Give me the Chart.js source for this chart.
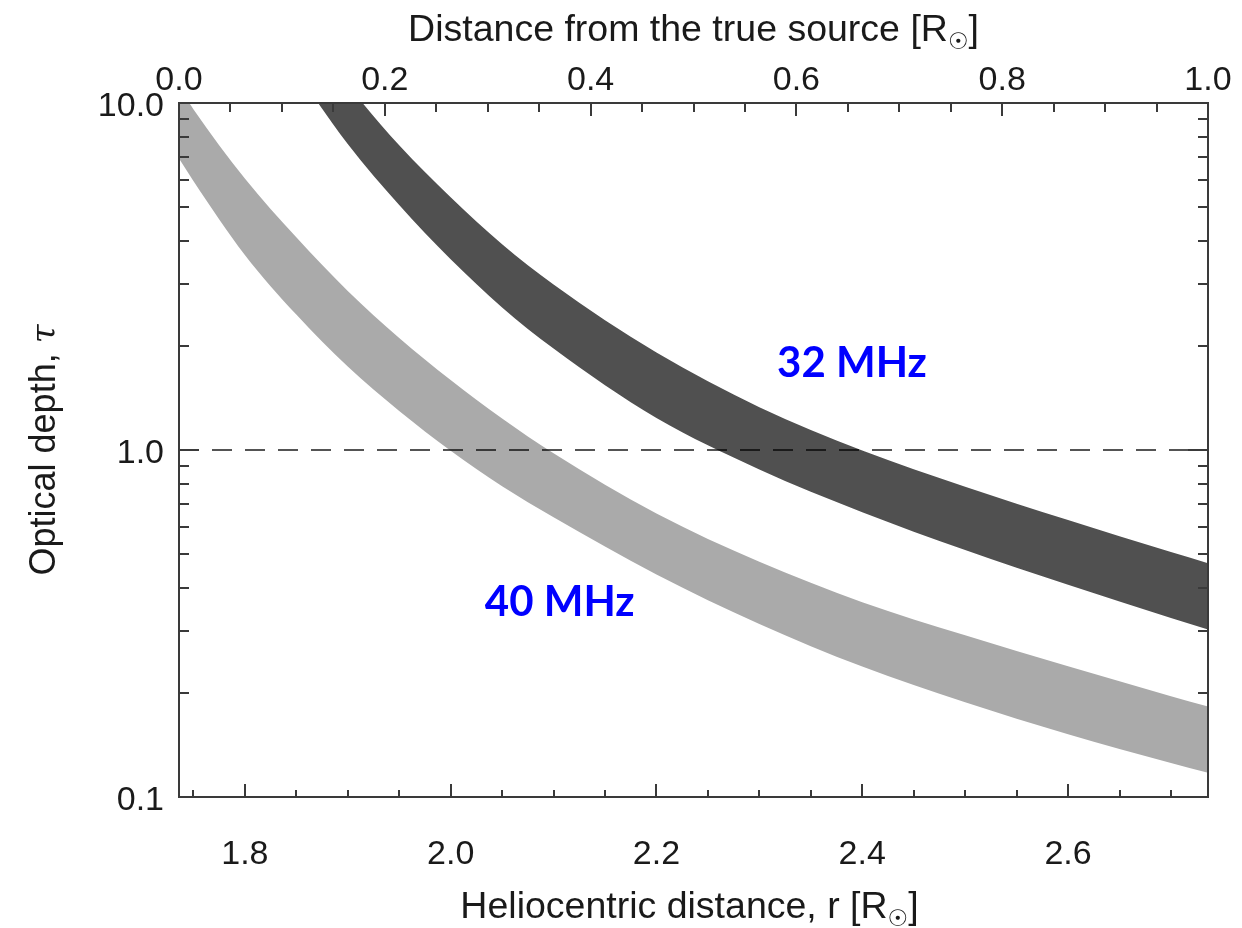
<!DOCTYPE html>
<html>
<head>
<meta charset="utf-8">
<title>Optical depth</title>
<script src="https://cdn.jsdelivr.net/npm/chart.js@4.4.1/dist/chart.umd.min.js"></script>
<style>
  html, body { margin: 0; padding: 0; background: #fff; }
  #myChart { display: block; }
</style>
</head>
<body>
<canvas id="myChart" width="1242" height="928"></canvas>
<script>
// heliocentric distance grid for each band [R_sun]
const rBand40 = [1.736, 1.75, 1.8, 1.85, 1.9, 1.95, 2.0, 2.05, 2.1, 2.2, 2.3, 2.4, 2.5, 2.6, 2.7, 2.736]
const tau40Upper = [11.12, 9.60, 6.06, 4.10, 2.872, 2.103, 1.591, 1.233, 0.979, 0.656, 0.476, 0.3644, 0.2924, 0.2381, 0.1953, 0.1822]
const tau40Lower = [6.92, 5.96, 3.65, 2.456, 1.739, 1.295, 0.995, 0.786, 0.640, 0.438, 0.3154, 0.2376, 0.1875, 0.1517, 0.1253, 0.1174]

const rBand32 = [1.85, 1.9, 1.95, 2.0, 2.05, 2.1, 2.2, 2.3, 2.4, 2.5, 2.6, 2.7, 2.736]
const tau32Upper = [17.5, 11.27, 7.55, 5.35, 3.92, 3.00, 1.910, 1.329, 0.997, 0.784, 0.628, 0.508, 0.472]
const tau32Lower = [12.29, 7.62, 5.08, 3.544, 2.576, 1.961, 1.236, 0.879, 0.662, 0.515, 0.4087, 0.3282, 0.3041]

// tau = 1 reference line
const rRef = [1.736, 2.736]
const tauRef = [1, 1]

// axis ticks
const rTicks = [1.8, 2.0, 2.2, 2.4, 2.6]
const offsetTicks = [0.0, 0.2, 0.4, 0.6, 0.8, 1.0]
const tauTicks = [0.1, 1, 10]

// band labels (centre, in data units)
const bandLabels = [
    { text: '32 MHz', r: 2.390, tau: 1.79 },
    { text: '40 MHz', r: 2.106, tau: 0.366 }
]

const rMin = 1.736
const rMax = 2.736

const toPoints = (xs, ys) => xs.map((x, i) => ({ x: x, y: ys[i] }))

const TICK_FONT = { family: 'Liberation Sans, Arial, sans-serif', size: 34 }
const TEXT = '#1a1a1a'

// draws "text [R" + subscript sun + "]" centred at cx, cy
function sunTitle(ctx, text, cx, cy, size) {
    const main = size + 'px "Liberation Sans", Arial, sans-serif'
    const sub = Math.round(size * 0.62) + 'px "DejaVu Sans", sans-serif'
    ctx.font = main
    const w1 = ctx.measureText(text).width
    const w3 = ctx.measureText(']').width
    ctx.font = sub
    const w2 = ctx.measureText('☉').width
    let x = cx - (w1 + w2 + w3) / 2
    const base = cy + size * 0.36
    ctx.textAlign = 'left'
    ctx.textBaseline = 'alphabetic'
    ctx.font = main
    ctx.fillText(text, x, base)
    x += w1
    ctx.font = sub
    ctx.fillText('☉', x, base + size * 0.22)
    x += w2
    ctx.font = main
    ctx.fillText(']', x, base)
}

const framePlugin = {
    id: 'frame',
    afterDatasetsDraw(chart) {
        const { ctx, chartArea: a, scales } = chart
        ctx.save()
        ctx.strokeStyle = '#3a3a3a'
        ctx.lineWidth = 2
        const line = (x1, y1, x2, y2) => {
            ctx.beginPath()
            ctx.moveTo(x1, y1)
            ctx.lineTo(x2, y2)
            ctx.stroke()
        }

        // bottom axis, minor every 0.05
        for (let i = 35; i <= 54; i++) {
            const x = Math.round(scales.x.getPixelForValue(i * 0.05))
            line(x, a.bottom, x, a.bottom - (i % 4 === 0 ? 13 : 7))
        }
        // top axis
        for (let i = 1; i <= 19; i++) {
            const x = Math.round(scales.x2.getPixelForValue(i * 0.05))
            line(x, a.top, x, a.top + (i % 4 === 0 ? 13 : 9))
        }
        // left and right, log minor ticks
        ;[0.1, 1].forEach(d => {
            for (let k = 1; k <= 9; k++) {
                const y = Math.round(scales.y.getPixelForValue(k * d))
                const len = k === 1 ? 20 : 10
                line(a.left, y, a.left + len, y)
                line(a.right, y, a.right - len, y)
            }
        })
        ctx.strokeRect(a.left, a.top, a.right - a.left, a.bottom - a.top)

        // axis titles
        ctx.fillStyle = TEXT
        sunTitle(ctx, 'Distance from the true source [R', (a.left + a.right) / 2, 27, 37.5)
        sunTitle(ctx, 'Heliocentric distance, r [R', (a.left + a.right) / 2 - 4, 904, 37.5)

        ctx.save()
        ctx.translate(42, (a.top + a.bottom) / 2)
        ctx.rotate(-Math.PI / 2)
        ctx.font = '36px "Liberation Sans", Arial, sans-serif'
        const t1 = 'Optical depth, '
        const w1 = ctx.measureText(t1).width
        ctx.font = 'italic 34px "DejaVu Serif", serif'
        const w2 = ctx.measureText('τ').width
        ctx.textBaseline = 'alphabetic'
        ctx.textAlign = 'left'
        ctx.font = '36px "Liberation Sans", Arial, sans-serif'
        ctx.fillText(t1, -(w1 + w2) / 2, 13)
        ctx.font = 'italic 34px "DejaVu Serif", serif'
        ctx.fillText('τ', -(w1 + w2) / 2 + w1, 13)
        ctx.restore()

        // band labels
        ctx.fillStyle = '#0000ff'
        ctx.font = 'bold 42px Lato, "Open Sans", sans-serif'
        ctx.textAlign = 'center'
        ctx.textBaseline = 'alphabetic'
        bandLabels.forEach(l => {
            const x = scales.x.getPixelForValue(l.r)
            const y = scales.y.getPixelForValue(l.tau)
            ctx.fillText(l.text, x, y + 15)
        })
        ctx.restore()
    }
}

const ctx = document.getElementById('myChart')
new Chart(ctx, {
    type: 'line',
    data: {
        datasets: [
            {
                label: 'tau = 1',
                data: toPoints(rRef, tauRef),
                borderColor: 'rgba(0,0,0,0.67)',
                borderWidth: 2,
                borderDash: [20, 13],
                pointRadius: 0,
                fill: false,
                order: 0
            },
            {
                label: '32 MHz upper',
                data: toPoints(rBand32, tau32Upper),
                borderWidth: 0,
                pointRadius: 0,
                cubicInterpolationMode: 'monotone',
                backgroundColor: '#505050',
                fill: '+1',
                order: 1
            },
            {
                label: '32 MHz lower',
                data: toPoints(rBand32, tau32Lower),
                borderWidth: 0,
                pointRadius: 0,
                cubicInterpolationMode: 'monotone',
                fill: false,
                order: 1
            },
            {
                label: '40 MHz upper',
                data: toPoints(rBand40, tau40Upper),
                borderWidth: 0,
                pointRadius: 0,
                cubicInterpolationMode: 'monotone',
                backgroundColor: '#aaaaaa',
                fill: '+1',
                order: 2
            },
            {
                label: '40 MHz lower',
                data: toPoints(rBand40, tau40Lower),
                borderWidth: 0,
                pointRadius: 0,
                cubicInterpolationMode: 'monotone',
                fill: false,
                order: 2
            }
        ]
    },
    options: {
        responsive: false,
        animation: false,
        events: [],
        layout: { padding: { left: 0, right: 34, top: 0, bottom: 0 } },
        plugins: {
            legend: { display: false },
            tooltip: { enabled: false }
        },
        scales: {
            x: {
                type: 'linear',
                position: 'bottom',
                min: rMin,
                max: rMax,
                grid: { display: false, drawTicks: false },
                border: { display: false },
                afterBuildTicks: s => { s.ticks = rTicks.map(v => ({ value: v })) },
                afterFit: s => { s.height = 131 },
                ticks: {
                    font: TICK_FONT,
                    color: TEXT,
                    padding: 37,
                    maxRotation: 0,
                    callback: v => Number(v).toFixed(1)
                }
            },
            x2: {
                type: 'linear',
                position: 'top',
                min: 0,
                max: 1,
                grid: { display: false, drawTicks: false },
                border: { display: false },
                afterBuildTicks: s => { s.ticks = offsetTicks.map(v => ({ value: v })) },
                afterFit: s => { s.height = 103 },
                ticks: {
                    font: TICK_FONT,
                    color: TEXT,
                    padding: 2,
                    maxRotation: 0,
                    callback: v => Number(v).toFixed(1)
                }
            },
            y: {
                type: 'logarithmic',
                position: 'left',
                min: 0.1,
                max: 10,
                grid: { display: false, drawTicks: false },
                border: { display: false },
                afterBuildTicks: s => { s.ticks = tauTicks.map(v => ({ value: v })) },
                afterFit: s => { s.width = 179 },
                ticks: {
                    font: TICK_FONT,
                    color: TEXT,
                    padding: 15,
                    labelOffset: 4,
                    callback: v => Number(v).toFixed(1)
                }
            }
        }
    },
    plugins: [framePlugin]
})
</script>
</body>
</html>
